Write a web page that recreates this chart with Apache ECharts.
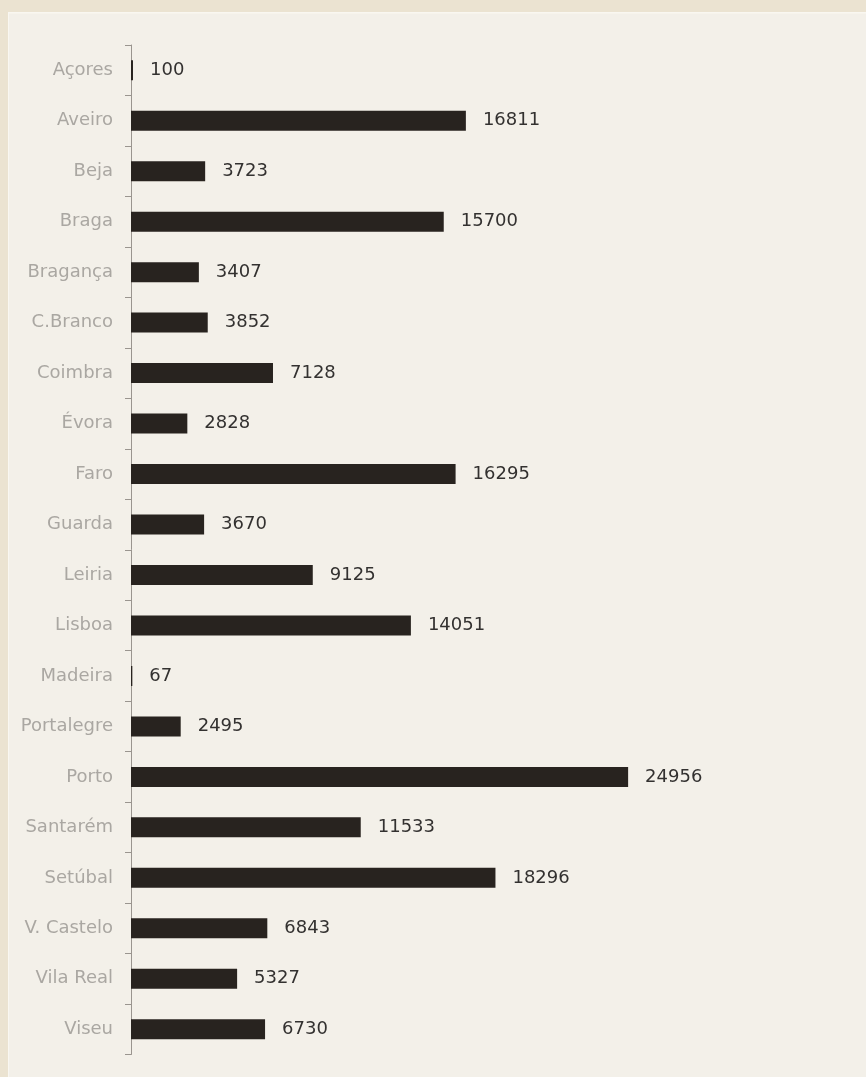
<!DOCTYPE html>
<html>
<head>
<meta charset="utf-8">
<script src="https://cdn.jsdelivr.net/npm/echarts@6/dist/echarts.min.js"></script>
<style>
  html, body { margin: 0; padding: 0; width: 866px; height: 1077px; background: #ebe3d1; overflow: hidden; }
  #panel { position: absolute; left: 8px; top: 12px; width: 858px; height: 1065px; background: #f3f0e9; box-shadow: inset 1px 1px 0 #f9f7f1, inset 0 2px 0 #f7f4ec; }
  #chart { width: 858px; height: 1065px; }
</style>
</head>
<body>
<div id="panel"><div id="chart"></div></div>
<script>
// Districts and their values
const districts = ['Açores', 'Aveiro', 'Beja', 'Braga', 'Bragança', 'C.Branco', 'Coimbra', 'Évora', 'Faro', 'Guarda',
  'Leiria', 'Lisboa', 'Madeira', 'Portalegre', 'Porto', 'Santarém', 'Setúbal', 'V. Castelo', 'Vila Real', 'Viseu'];
const values = [100, 16811, 3723, 15700, 3407, 3852, 7128, 2828, 16295, 3670,
  9125, 14051, 67, 2495, 24956, 11533, 18296, 6843, 5327, 6730];

const chart = echarts.init(document.getElementById('chart'), null, { renderer: 'canvas' });
chart.setOption({
  backgroundColor: 'transparent',
  animation: false,
  grid: { left: 123, top: 33, width: 498, height: 1009.5, containLabel: false },
  xAxis: {
    type: 'value', min: 0, max: 25000, show: false
  },
  yAxis: {
    type: 'category',
    data: districts,
    inverse: true,
    axisLine: { show: true, lineStyle: { color: '#9a958f', width: 1 } },
    axisTick: { show: true, length: 6, lineStyle: { color: '#9a958f' } },
    axisLabel: { color: '#aaa7a2', fontFamily: 'DejaVu Sans', fontSize: 18, margin: 18 },
    splitLine: { show: false }
  },
  series: [{
    type: 'bar',
    data: values,
    barWidth: 20,
    itemStyle: { color: '#28231f' },
    label: {
      show: true,
      position: 'right',
      distance: 17,
      color: '#333130',
      fontFamily: 'DejaVu Sans',
      fontSize: 18
    }
  }]
});
</script>
</body>
</html>
